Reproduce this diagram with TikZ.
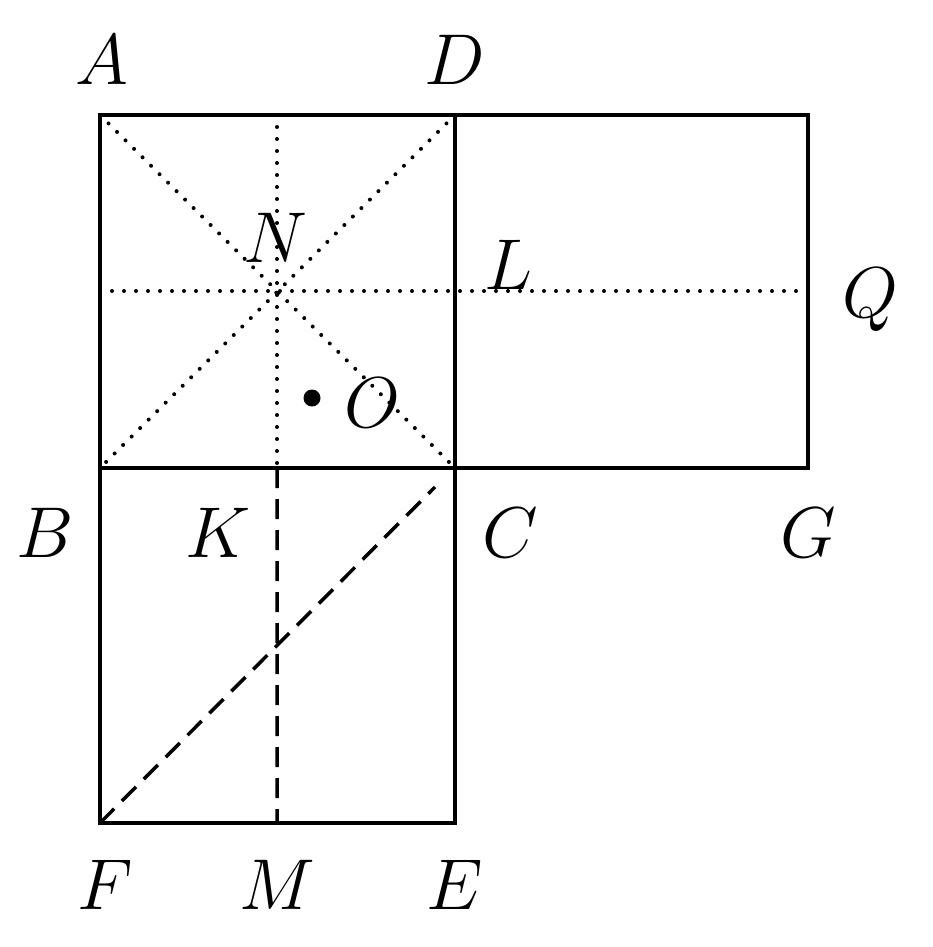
\documentclass[tikz,border=0pt]{standalone}
\usepackage{fix-cm}
\begin{document}
\begin{tikzpicture}[x=1pt,y=-1pt,
  solid line/.style={line width=4pt},
  dot line/.style={line width=4pt,dash pattern=on 0pt off 12pt,line cap=round},
  dash line/.style={line width=3.5pt,dash pattern=on 20pt off 11pt},
  lab/.style={font=\fontsize{72}{80}\selectfont,inner sep=0pt}]
\useasboundingbox (0,0) rectangle (933,947);
\coordinate (A) at (100,115); \coordinate (D) at (455,115);
\coordinate (C) at (455,468); \coordinate (B) at (100,468);
\coordinate (Q) at (808,115); \coordinate (G) at (808,468);
\coordinate (F) at (100,823); \coordinate (E) at (455,823);
\coordinate (M) at (277,823); \coordinate (K) at (277,468);
\coordinate (T) at (277,115);
\coordinate (Hl) at (100,291); \coordinate (Hr) at (808,291);
\coordinate (Cd) at (435,487);
\draw[dot line] (A) -- (C) (D) -- (B) (T) -- (K) (Hl) -- (Hr);
\draw[dash line] (K) -- (M) (F) -- (Cd);
\draw[solid line] (A) -- (Q) -- (G) -- (B) -- cycle (D) -- (C) (B) -- (F) -- (E) -- (C);
\fill (312,398) circle (8.5pt);
\node[lab] at (102,60) {$A$};
\node[lab] at (455,60) {$D$};
\node[lab] at (275,238) {$N$};
\node[lab] at (508,265) {$L$};
\node[lab] at (870,300) {$Q$};
\node[lab] at (372,403) {$O$};
\node[lab] at (45,533) {$B$};
\node[lab] at (218,533) {$K$};
\node[lab] at (510,533) {$C$};
\node[lab] at (808,533) {$G$};
\node[lab] at (105,885) {$F$};
\node[lab] at (277,885) {$M$};
\node[lab] at (455,885) {$E$};
\end{tikzpicture}
\end{document}
